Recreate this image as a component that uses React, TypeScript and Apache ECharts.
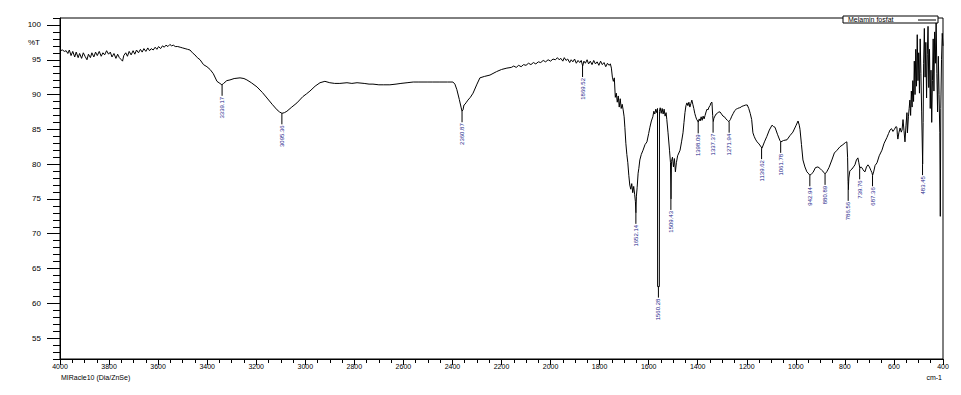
import React, { useEffect, useRef } from "react";
import * as echarts from "echarts";

// ---------- DATA ----------
// Spectrum as [wavenumber (cm-1), %T]
const regionHighWn: [number, number][] = [
  [4000, 96.3], [3990, 96.4], [3982, 96.2], [3975, 96.3], [3968, 95.9], [3962, 96.4], [3955, 95.6], [3948, 96.2],
  [3940, 95.4], [3934, 96.1], [3926, 95.3], [3920, 95.9], [3912, 95.2], [3905, 96.0], [3898, 95.5], [3890, 95.0],
  [3884, 95.8], [3876, 95.3], [3870, 96.0], [3862, 95.4], [3855, 96.1], [3848, 95.6], [3840, 96.2], [3832, 95.5],
  [3825, 96.0], [3818, 95.7], [3810, 96.3], [3802, 95.8], [3795, 96.1], [3788, 95.4], [3780, 95.9], [3772, 95.2],
  [3765, 95.8], [3758, 95.3], [3750, 95.0], [3745, 94.8], [3740, 95.6], [3732, 96.0], [3725, 95.5], [3718, 96.2],
  [3710, 95.7], [3702, 96.3], [3695, 95.8], [3688, 96.4], [3680, 96.0], [3672, 96.5], [3665, 96.1], [3658, 96.6],
  [3650, 96.2], [3642, 96.7], [3635, 96.3], [3628, 96.6], [3620, 96.4], [3612, 96.8], [3605, 96.5], [3598, 96.9],
  [3590, 96.6], [3582, 97.0], [3575, 96.8], [3568, 97.1], [3560, 96.9], [3552, 97.2], [3545, 97.0], [3538, 97.1],
  [3530, 96.9], [3520, 96.9], [3510, 96.8], [3500, 96.7], [3490, 96.6], [3480, 96.5],
];

const regionNH: [number, number][] = [
  [3470, 96.4], [3460, 96.0], [3450, 95.7], [3440, 95.3], [3429, 95.0], [3415, 94.3], [3401, 94.0], [3388, 93.6],
  [3375, 93.0], [3360, 91.9], [3348, 91.6], [3340, 91.4], [3333, 91.6], [3320, 92.0], [3307, 92.1], [3290, 92.3],
  [3266, 92.4], [3250, 92.3], [3238, 92.1], [3220, 91.7], [3197, 91.1], [3175, 90.3], [3156, 89.5], [3135, 88.6],
  [3115, 87.8], [3105, 87.5], [3095, 87.3], [3085, 87.4], [3075, 87.6], [3055, 88.2], [3034, 88.8], [3010, 89.7],
  [2995, 90.1], [2981, 90.5], [2960, 91.2], [2940, 91.7], [2920, 91.9], [2900, 91.7], [2880, 91.6], [2859, 91.6],
  [2830, 91.7], [2810, 91.6], [2789, 91.7], [2760, 91.6], [2740, 91.5], [2724, 91.5], [2700, 91.4], [2680, 91.4],
  [2655, 91.4], [2630, 91.5], [2610, 91.6], [2585, 91.7], [2560, 91.8], [2540, 91.8], [2520, 91.8], [2500, 91.8],
  [2480, 91.8], [2451, 91.8], [2420, 91.8], [2398, 91.8], [2390, 91.5], [2382, 90.7], [2372, 89.3], [2365, 88.2],
  [2361, 87.6], [2357, 87.8], [2353, 88.5], [2349, 88.6], [2343, 88.9], [2337, 89.2], [2327, 89.6], [2316, 90.2],
  [2300, 91.5], [2288, 92.4], [2270, 92.6], [2247, 92.8], [2220, 93.3], [2200, 93.6], [2178, 93.8],
];

const regionMid: [number, number][] = [
  [2160, 93.9], [2150, 94.1], [2140, 93.9], [2130, 94.2], [2120, 94.0], [2110, 94.3], [2100, 94.2], [2090, 94.5],
  [2080, 94.3], [2070, 94.6], [2060, 94.4], [2050, 94.7], [2040, 94.6], [2030, 94.9], [2020, 94.7], [2010, 95.0],
  [2000, 94.8], [1990, 95.1], [1980, 95.0], [1972, 95.3], [1965, 95.0], [1958, 95.2], [1950, 94.8], [1944, 95.3],
  [1937, 94.9], [1930, 95.1], [1922, 94.6], [1916, 95.0], [1909, 94.7], [1902, 95.1], [1895, 94.5], [1888, 94.9],
  [1881, 94.6], [1875, 94.9], [1869, 94.1], [1864, 94.8], [1858, 94.5], [1851, 95.0], [1845, 94.4], [1838, 94.8],
  [1831, 94.3], [1824, 94.9], [1817, 94.4], [1810, 94.7], [1803, 94.2], [1796, 94.8], [1789, 94.3], [1782, 94.6],
  [1775, 94.0], [1768, 94.5], [1762, 94.2], [1756, 94.4],
];

const regionFingerprint: [number, number][] = [
  [1752, 93.8], [1748, 92.5], [1744, 91.9], [1740, 92.4], [1736, 89.6], [1732, 90.2], [1728, 88.9], [1724, 89.8],
  [1720, 88.2], [1716, 89.4], [1712, 88.0], [1708, 88.6], [1704, 87.8], [1700, 86.8], [1697, 85.3], [1693, 83.0],
  [1689, 81.4], [1685, 80.2], [1681, 78.4], [1677, 77.0], [1673, 76.4], [1669, 77.2], [1665, 75.9], [1661, 76.8],
  [1657, 75.6], [1654, 74.6], [1652, 73.0], [1650, 75.4], [1647, 76.6], [1643, 78.7], [1640, 79.4], [1636, 80.6],
  [1630, 81.4], [1623, 82.0], [1615, 82.8], [1607, 83.2], [1600, 84.4], [1595, 85.3], [1589, 86.2], [1583, 86.8],
  [1579, 87.6], [1575, 87.2], [1571, 87.9], [1567, 87.4], [1564, 88.0], [1563.5, 62.4], [1556.5, 62.4], [1556, 87.6],
  [1553, 88.1], [1549, 87.3], [1545, 88.0], [1541, 87.2], [1537, 87.9], [1533, 86.9], [1529, 87.4], [1526, 86.4],
  [1521, 84.5], [1515, 82.0], [1511, 80.2], [1509, 75.0], [1507, 80.4], [1503, 81.0], [1499, 79.6], [1495, 80.8],
  [1491, 78.9], [1487, 80.2], [1482, 81.2], [1477, 81.6], [1472, 82.0], [1466, 83.2], [1460, 84.5], [1456, 86.0],
  [1452, 87.4], [1448, 88.4], [1444, 88.8], [1440, 88.4], [1436, 88.9], [1432, 88.2], [1428, 88.7], [1424, 89.2],
  [1420, 88.6], [1416, 88.0], [1412, 87.3], [1408, 86.8], [1404, 86.4], [1400, 86.2], [1398, 86.0], [1394, 86.5],
  [1390, 86.2], [1386, 86.8], [1382, 86.3], [1378, 86.9], [1374, 86.5], [1370, 87.0], [1366, 87.5], [1362, 87.9],
  [1358, 87.8], [1354, 88.2], [1350, 88.4], [1346, 88.8], [1342, 88.9], [1339, 87.0], [1337, 86.1], [1334, 86.6],
  [1330, 86.9], [1325, 87.2], [1320, 87.3], [1315, 87.5], [1309, 87.5], [1303, 87.2], [1297, 86.9], [1291, 86.8],
  [1285, 86.5], [1279, 86.3], [1273, 86.1], [1267, 86.4], [1261, 86.9], [1255, 87.3], [1249, 87.7], [1243, 87.9],
  [1237, 88.0], [1231, 88.1], [1228, 88.1], [1220, 88.3], [1212, 88.4], [1204, 88.5], [1198, 88.5], [1192, 88.0],
  [1186, 87.3], [1180, 86.4], [1175, 84.5], [1170, 84.0], [1165, 83.6], [1158, 83.2], [1150, 82.9], [1144, 82.6],
  [1138, 82.3],
];

const regionLow: [number, number][] = [
  [1128, 83.2], [1118, 84.0], [1108, 84.9], [1097, 85.6], [1091, 85.4], [1085, 85.3], [1075, 84.3], [1065, 83.4],
  [1061, 83.2], [1050, 83.4], [1036, 83.5], [1024, 84.1], [1012, 84.6], [1000, 85.5], [991, 86.2], [986, 85.6],
  [983, 85.0], [977, 82.8], [971, 80.6], [963, 79.6], [955, 78.9], [947, 78.6], [943, 78.4], [936, 78.6],
  [930, 78.8], [920, 79.5], [910, 79.6], [902, 79.4], [894, 79.1], [885, 78.8], [881, 78.6], [874, 78.9],
  [865, 79.5], [853, 80.6], [843, 81.6], [832, 82.0], [820, 82.5], [808, 82.8], [798, 83.1], [792, 83.2],
  [789, 81.0], [787, 77.5], [786, 76.3], [784, 78.0], [780, 79.0], [775, 79.2], [771, 79.3], [765, 79.6],
  [759, 79.9], [753, 80.6], [747, 80.9], [743, 80.2], [739, 79.4], [735, 79.6], [731, 79.5], [726, 79.2],
  [722, 79.0], [718, 78.9], [712, 79.6], [706, 79.9], [700, 79.6], [694, 79.1], [690, 78.8], [687, 78.4],
  [682, 79.0], [677, 79.8], [669, 80.2], [660, 81.2], [649, 82.0], [640, 83.0], [629, 83.8], [622, 84.4],
  [616, 84.9], [610, 85.1], [604, 84.7], [598, 85.0], [592, 85.4], [588, 85.3], [586, 84.2], [584, 83.6],
  [580, 84.5], [575, 85.2], [570, 84.6], [567, 84.9], [563, 86.4], [559, 84.8], [555, 83.2], [551, 85.5],
  [547, 87.4], [545, 84.5], [541, 86.8], [538, 88.0],
];

const regionNoisyEnd: [number, number][] = [
  [535, 89.2], [532, 87.0], [529, 90.5], [526, 88.2], [523, 92.0], [520, 89.0], [517, 94.8], [514, 90.0],
  [511, 96.5], [508, 91.2], [505, 98.6], [502, 92.0], [499, 96.0], [496, 90.2], [493, 98.0], [490, 93.0],
  [487, 87.5], [483, 80.0], [481, 86.0], [479, 94.5], [476, 99.5], [473, 92.5], [470, 97.5], [467, 89.5],
  [464, 95.8], [461, 99.8], [458, 91.0], [455, 96.5], [452, 88.0], [449, 93.5], [446, 86.0], [443, 92.0],
  [440, 98.0], [437, 90.5], [434, 99.0], [431, 94.5], [428, 100.6], [425, 93.0], [422, 87.5], [419, 95.5],
  [416, 90.0], [413, 84.5], [411, 72.5], [409, 88.0], [406, 95.0], [403, 98.8], [400, 97.0],
];

// Peak annotations
const peakWn = [3339.17, 3095.36, 2360.87, 1869.52, 1652.14, 1560.28, 1509.43, 1398.09, 1337.37, 1271.94,
  1139.62, 1061.78, 942.94, 880.89, 786.56, 739.76, 687.36, 483.45];
const peakT = [91.4, 87.3, 87.6, 94.1, 73.0, 62.4, 75.0, 86.0, 86.1, 86.1,
  82.3, 83.2, 78.4, 78.6, 76.3, 79.4, 78.4, 80.0];
const peakLabels = ["3339.17", "3095.36", "2360.87", "1869.52", "1652.14", "1560.28", "1509.43", "1398.09",
  "1337.37", "1271.94", "1139.62", "1061.78", "942.94", "880.89", "786.56", "739.76", "687.36", "483.45"];

const yMajorTicks = [55, 60, 65, 70, 75, 80, 85, 90, 95, 100];
const seriesName = "Melamin fosfat";

// ---------- CHART ----------
export default function App() {
  const ref = useRef<HTMLDivElement>(null);

  useEffect(() => {
    if (!ref.current) return;
    const chart = echarts.init(ref.current, undefined, { renderer: "svg" });
    const spectrum = [
      ...regionHighWn, ...regionNH, ...regionMid, ...regionFingerprint, ...regionLow, ...regionNoisyEnd,
    ];
    const peaks = peakWn.map((w, i) => [w, peakT[i], i]);
    const font = "'Liberation Sans', Arial, sans-serif";

    chart.setOption({
      animation: false,
      grid: {
        left: 60, right: 18, top: 18, bottom: 36,
        show: true, borderColor: "#000", borderWidth: 1, backgroundColor: "transparent",
      },
      xAxis: {
        type: "value", min: 400, max: 4000, interval: 200, inverse: true,
        axisLine: { show: true, lineStyle: { color: "#000", width: 1 } },
        axisTick: { show: true, length: 6, lineStyle: { color: "#000" } },
        minorTick: { show: true, splitNumber: 4, length: 4, lineStyle: { color: "#000" } },
        axisLabel: {
          color: "#000", fontSize: 7, margin: 4, fontFamily: font,
          formatter: (v: number) => String(v),
        },
        splitLine: { show: false },
        minorSplitLine: { show: false },
      },
      yAxis: [
        {
          type: "value", min: 52, max: 101,
          axisLine: { show: true, lineStyle: { color: "#000", width: 1 } },
          axisTick: { show: true, customValues: yMajorTicks, length: 13, lineStyle: { color: "#000" } },
          axisLabel: {
            customValues: yMajorTicks, color: "#000", fontSize: 8, margin: 19, fontFamily: font,
            formatter: (v: number) => String(v),
          },
          splitLine: { show: false },
        },
        {
          type: "value", min: 52, max: 101, interval: 1, position: "left",
          axisLine: { show: false },
          axisTick: { show: true, length: 7, lineStyle: { color: "#000" } },
          axisLabel: { show: false },
          splitLine: { show: false },
        },
      ],
      series: [
        {
          name: seriesName,
          type: "line",
          data: spectrum,
          symbol: "none",
          showSymbol: false,
          lineStyle: { color: "#000", width: 1 },
          xAxisIndex: 0,
          yAxisIndex: 0,
        },
        {
          type: "custom",
          xAxisIndex: 0,
          yAxisIndex: 0,
          data: peaks,
          clip: false,
          renderItem: (params: any, api: any) => {
            const p = api.coord([api.value(0), api.value(1)]);
            const idx = api.value(2);
            return {
              type: "group",
              children: [
                {
                  type: "line",
                  shape: { x1: p[0], y1: p[1], x2: p[0], y2: p[1] + 11 },
                  style: { stroke: "#000", lineWidth: 1 },
                },
                {
                  type: "text",
                  x: p[0],
                  y: p[1] + 12,
                  rotation: Math.PI / 2,
                  style: {
                    text: peakLabels[idx],
                    fontSize: 6,
                    fontFamily: font,
                    fill: "#24248a",
                    align: "right",
                    verticalAlign: "middle",
                  },
                },
              ],
            };
          },
        },
      ],
      graphic: [
        {
          type: "rect",
          shape: { x: 843, y: 16, width: 95, height: 7 },
          style: { fill: "#fff", stroke: "#000", lineWidth: 1 },
          z: 10,
        },
        {
          type: "text",
          x: 848, y: 19.8,
          style: { text: seriesName, fontSize: 7, fontFamily: font, fill: "#000", verticalAlign: "middle" },
          z: 11,
        },
        {
          type: "line",
          shape: { x1: 918, y1: 20, x2: 936, y2: 20 },
          style: { stroke: "#000", lineWidth: 1 },
          z: 11,
        },
        {
          type: "text",
          x: 28, y: 42,
          style: { text: "%T", fontSize: 8, fontFamily: font, fill: "#000", verticalAlign: "middle" },
        },
        {
          type: "text",
          x: 61, y: 377.5,
          style: { text: "MIRacle10 (Dia/ZnSe)", fontSize: 7, fontFamily: font, fill: "#000", verticalAlign: "middle" },
        },
        {
          type: "text",
          x: 942, y: 377.5,
          style: { text: "cm-1", fontSize: 7, fontFamily: font, fill: "#000", align: "right", verticalAlign: "middle" },
        },
      ],
    });

    return () => chart.dispose();
  }, []);

  return (
    <div
      ref={ref}
      style={{ position: "fixed", left: 0, top: 0, width: 961, height: 395, background: "#fff" }}
    />
  );
}
